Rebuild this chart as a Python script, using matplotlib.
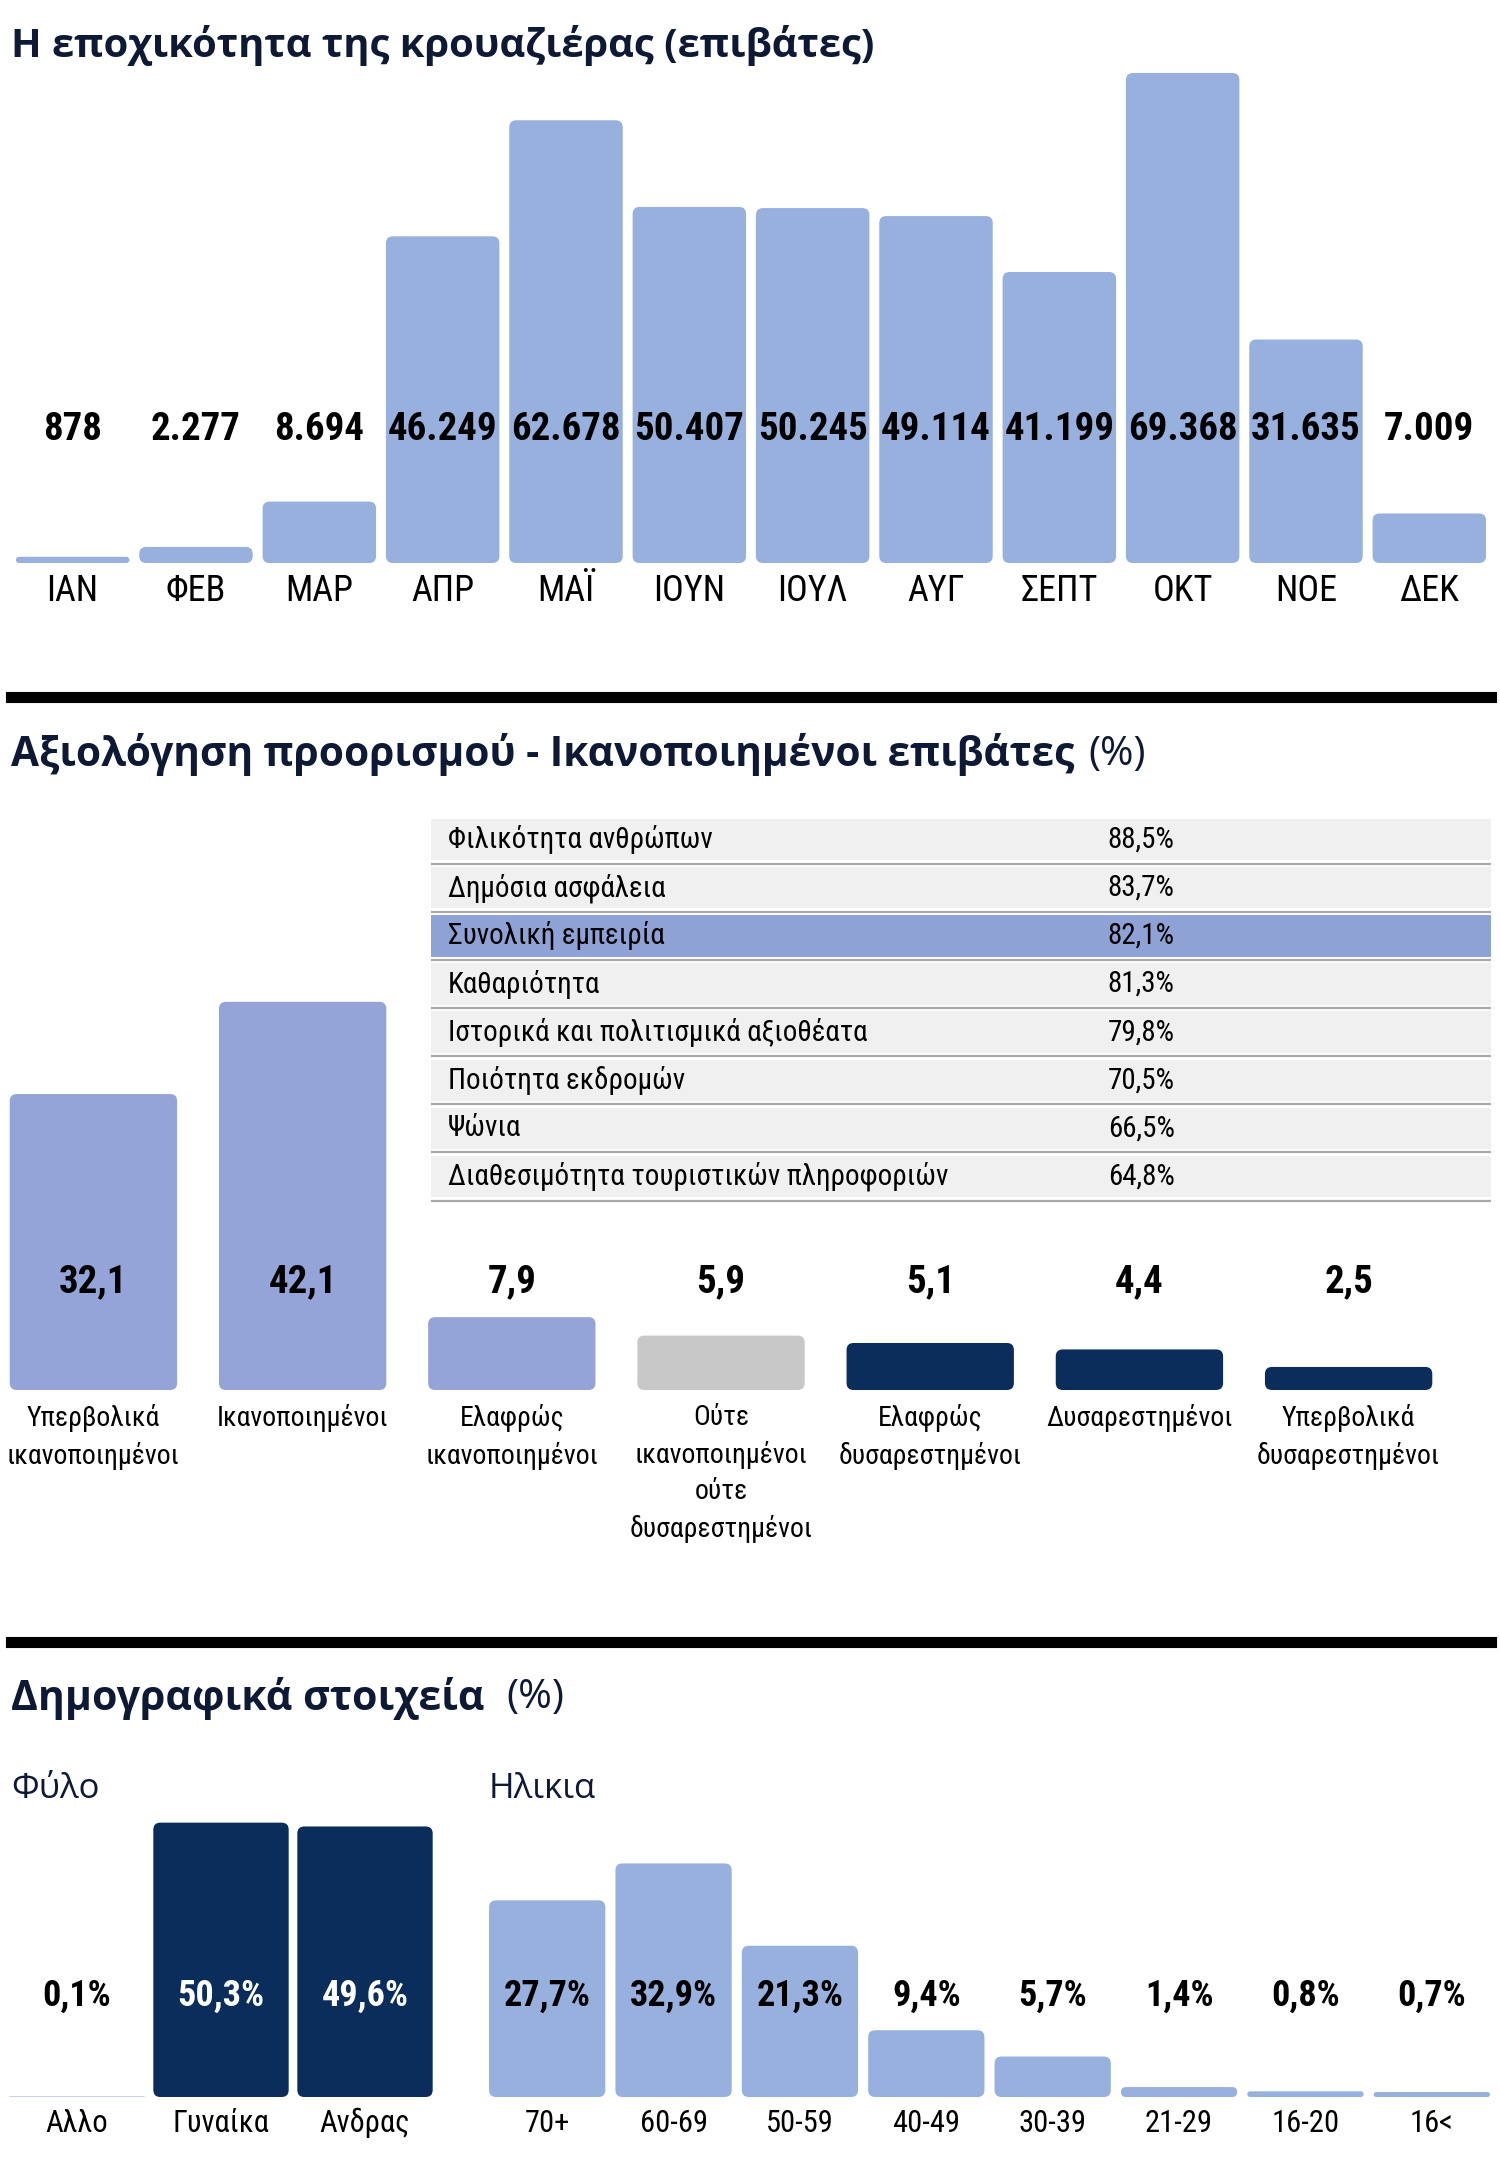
import numpy as np
import matplotlib
matplotlib.use('Agg')
import matplotlib.pyplot as plt
import matplotlib.transforms as mtransforms
from matplotlib import font_manager as fm
from matplotlib.patches import FancyBboxPatch
from matplotlib.lines import Line2D

# ---- data ----
months = ['ΙΑΝ', 'ΦΕΒ', 'ΜΑΡ', 'ΑΠΡ', 'ΜΑΪ', 'ΙΟΥΝ', 'ΙΟΥΛ', 'ΑΥΓ', 'ΣΕΠΤ', 'ΟΚΤ', 'ΝΟΕ', 'ΔΕΚ']
passengers = [878, 2277, 8694, 46249, 62678, 50407, 50245, 49114, 41199, 69368, 31635, 7009]

rating_items = ['Φιλικότητα ανθρώπων', 'Δημόσια ασφάλεια', 'Συνολική εμπειρία', 'Καθαριότητα',
                'Ιστορικά και πολιτισμικά αξιοθέατα', 'Ποιότητα εκδρομών', 'Ψώνια',
                'Διαθεσιμότητα τουριστικών πληροφοριών']
rating_values = [88.5, 83.7, 82.1, 81.3, 79.8, 70.5, 66.5, 64.8]
highlight_item = 'Συνολική εμπειρία'

sat_labels = ['Υπερβολικά\nικανοποιημένοι', 'Ικανοποιημένοι', 'Ελαφρώς\nικανοποιημένοι',
              'Ούτε\nικανοποιημένοι\nούτε\nδυσαρεστημένοι', 'Ελαφρώς\nδυσαρεστημένοι',
              'Δυσαρεστημένοι', 'Υπερβολικά\nδυσαρεστημένοι']
sat_values = [32.1, 42.1, 7.9, 5.9, 5.1, 4.4, 2.5]

gender_labels = ['Αλλο', 'Γυναίκα', 'Ανδρας']
gender_values = [0.1, 50.3, 49.6]

age_labels = ['70+', '60-69', '50-59', '40-49', '30-39', '21-29', '16-20', '16<']
age_values = [27.7, 32.9, 21.3, 9.4, 5.7, 1.4, 0.8, 0.7]

# ---- style ----
LIGHT = '#98b0dd'
VIOLET = '#95a4d8'
GREY = '#c8c8c8'
NAVY = '#0b2d5b'
TITLE_C = '#0e1a35'
sat_colors = [VIOLET, VIOLET, VIOLET, GREY, NAVY, NAVY, NAVY]
gender_colors = [LIGHT, NAVY, NAVY]

# pick fonts from what is installed: a narrow face for labels, a bold one for titles
_fl = fm.fontManager.ttflist
_COND = ('condensed', 'semi-condensed', 'extra-condensed', 'ultra-condensed')


def _weight(f):
    return f.weight if isinstance(f.weight, int) else fm.weight_dict.get(f.weight, 400)


def has_font(name, bold=False, cond=False):
    for f in _fl:
        if f.name != name:
            continue
        if bold and _weight(f) < 600:
            continue
        if not bold and _weight(f) >= 600:
            continue
        if cond and f.stretch not in _COND:
            continue
        return True
    return False


NARROW, NSTRETCH = 'DejaVu Sans', 'normal'
for name, cond in [('Liberation Sans Narrow', False), ('Roboto Condensed', False),
                   ('Open Sans Condensed', False), ('DejaVu Sans Condensed', False),
                   ('DejaVu Sans', True), ('Noto Sans', True), ('Roboto', False),
                   ('Liberation Sans', False)]:
    if has_font(name, False, cond) and has_font(name, True, cond):
        NARROW, NSTRETCH = name, ('condensed' if cond else 'normal')
        break

TITLE = 'DejaVu Sans'
for name in ['Open Sans', 'Roboto', 'Lato', 'Inter', 'Noto Sans', 'Liberation Sans']:
    if has_font(name, True) and has_font(name, False):
        TITLE = name
        break

NKW = dict(family=[NARROW, 'DejaVu Sans'], fontstretch=NSTRETCH)

W, H = 1500, 2174
fig = plt.figure(figsize=(W / 100, H / 100), dpi=100)
renderer = fig.canvas.get_renderer()


def px_axes(x0, x1, ybase, ytop):
    ax = fig.add_axes([x0 / W, 1 - ybase / H, (x1 - x0) / W, (ybase - ytop) / H])
    ax.set_axis_off()
    ax.patch.set_alpha(0)
    return ax


def fig_text(x, y, s, **kw):
    return fig.text(x / W, 1 - y / H, s, **kw)


def round_bars(ax, bars, r_px=7):
    # swap the plain rectangles for rounded ones, same data geometry
    pos = ax.get_position()
    xu = np.diff(ax.get_xlim())[0] / (pos.width * W)
    yu = np.diff(ax.get_ylim())[0] / (pos.height * H)
    for b in bars:
        x, y = b.get_xy()
        w, h = b.get_width(), b.get_height()
        r = min(r_px, w / xu / 2, h / yu / 2)
        p = FancyBboxPatch((x, y), w, h, boxstyle='round,pad=0,rounding_size=%f' % (r * xu),
                           mutation_aspect=yu / xu, fc=b.get_facecolor(), ec='none', clip_on=False)
        b.remove()
        ax.add_patch(p)


def fit_width(t, target_px):
    bb = t.get_window_extent(renderer)
    t.set_fontsize(t.get_fontsize() * target_px / bb.width)


def fit_group(texts, max_px):
    # shrink a group of texts together so the widest is no wider than max_px
    wmax = max(t.get_window_extent(renderer).width for t in texts)
    if wmax > max_px:
        for t in texts:
            t.set_fontsize(t.get_fontsize() * max_px / wmax)


def title_with_unit(x, y, bold, unit, target_px, gap=14):
    t = fig_text(x, y, bold, family=[TITLE, 'DejaVu Sans'], weight='bold', fontsize=26,
                 color=TITLE_C, va='center')
    fit_width(t, target_px)
    bb = t.get_window_extent(renderer)
    if unit:
        fig_text(bb.x1 + gap, y, unit, family=[TITLE, 'DejaVu Sans'], fontsize=t.get_fontsize(),
                 color=TITLE_C, va='center')


# ---- section 1: seasonality ----
title_with_unit(11, 46, 'Η εποχικότητα της κρουαζιέρας (επιβάτες)', None, 866)

ax1 = px_axes(11, 1491, 563, 63)
x = np.arange(len(months))
ax1.set_xlim(-0.5, len(months) - 0.5)
ax1.set_ylim(0, max(passengers) * 500 / 490)
bars = ax1.bar(x, passengers, width=0.92, color=LIGHT)
round_bars(ax1, bars)
tr = mtransforms.blended_transform_factory(ax1.transData, ax1.transAxes)
vals_t, lab_t = [], []
for i, v in enumerate(passengers):
    vals_t.append(ax1.text(i, 0.266, '{:,}'.format(v).replace(',', '.'), transform=tr, ha='center',
                           va='center', weight='bold', fontsize=28, **NKW))
    lab_t.append(ax1.text(i, -0.056, months[i], transform=tr, ha='center', va='center',
                          fontsize=26, **NKW))
fit_group(vals_t, 112)
fit_group(lab_t, 92)

fig.add_artist(Line2D([11 / W, 1491 / W], [1 - 697 / H] * 2, lw=8, color='black',
                      transform=fig.transFigure))

# ---- section 2: destination rating ----
title_with_unit(11, 755, 'Αξιολόγηση προορισμού - Ικανοποιημένοι επιβάτες', '(%)', 1064)

axt = px_axes(431, 1491, 1203, 818)
n = len(rating_items)
axt.set_xlim(0, 1)
axt.set_ylim(n, 0)
row_colors = ['#8fa2d6' if it == highlight_item else '#f0f0f0' for it in rating_items]
axt.barh(np.arange(n) + 0.45, 1, height=0.86, color=row_colors)
axt.hlines(np.arange(n) + 0.95, 0, 1, color='#a9a9a9', lw=1.6)
row_t = []
for i, (it, v) in enumerate(zip(rating_items, rating_values)):
    row_t.append(axt.text(0.016, i + 0.45, it, ha='left', va='center', fontsize=21, **NKW))
    row_t.append(axt.text(0.67, i + 0.45, ('%.1f%%' % v).replace('.', ','), ha='center',
                          va='center', fontsize=21, **NKW))
fit_group(row_t, 500)

ax2 = px_axes(11, 1491, 1390, 929)
xs = np.arange(len(sat_values))
ax2.set_xlim(-0.394, -0.394 + 1480 / 209.2)
ax2.set_ylim(0, 50)
bars = ax2.bar(xs, sat_values, width=0.8, color=sat_colors)
round_bars(ax2, bars)
tr = mtransforms.blended_transform_factory(ax2.transData, ax2.transAxes)
sv_t, sl_t = [], []
for i, v in enumerate(sat_values):
    sv_t.append(ax2.text(i, (1390 - 1282) / 461, ('%.1f' % v).replace('.', ','), transform=tr,
                         ha='center', va='center', weight='bold', fontsize=28, **NKW))
    sl_t.append(ax2.text(i, -(1404 - 1390) / 461, sat_labels[i], transform=tr, ha='center',
                         va='top', multialignment='center', fontsize=20, linespacing=1.45, **NKW))
fit_group(sl_t, 190)

fig.add_artist(Line2D([11 / W, 1491 / W], [1 - 1642 / H] * 2, lw=8, color='black',
                      transform=fig.transFigure))

# ---- section 3: demographics ----
title_with_unit(11, 1698, 'Δημογραφικά στοιχεία', '(%)', 474, gap=22)
fig_text(11, 1789, 'Φύλο', family=[TITLE, 'DejaVu Sans'], fontsize=25, color=TITLE_C, va='center')
fig_text(489, 1789, 'Ηλικια', family=[TITLE, 'DejaVu Sans'], fontsize=25, color=TITLE_C, va='center')

ax3 = px_axes(5, 437, 2097, 1797)
xg = np.arange(len(gender_values))
ax3.set_xlim(-0.5, len(gender_values) - 0.5)
ax3.set_ylim(0, 55)
bars = ax3.bar(xg, gender_values, width=0.94, color=gender_colors)
round_bars(ax3, bars)
tr = mtransforms.blended_transform_factory(ax3.transData, ax3.transAxes)
pct_t, dl_t = [], []
for i, v in enumerate(gender_values):
    pct_t.append(ax3.text(i, (2097 - 1996) / 300, ('%.1f%%' % v).replace('.', ','), transform=tr,
                          ha='center', va='center', weight='bold', fontsize=26,
                          color='white' if v > 20 else 'black', **NKW))
    dl_t.append(ax3.text(i, -26 / 300, gender_labels[i], transform=tr, ha='center', va='center',
                         fontsize=22, **NKW))

ax4 = px_axes(484, 1495, 2097, 1813)
xa = np.arange(len(age_values))
ax4.set_xlim(-0.5, len(age_values) - 0.5)
ax4.set_ylim(0, 40)
bars = ax4.bar(xa, age_values, width=0.92, color=LIGHT)
round_bars(ax4, bars)
tr = mtransforms.blended_transform_factory(ax4.transData, ax4.transAxes)
for i, v in enumerate(age_values):
    pct_t.append(ax4.text(i, (2097 - 1996) / 284, ('%.1f%%' % v).replace('.', ','), transform=tr,
                          ha='center', va='center', weight='bold', fontsize=26, **NKW))
    dl_t.append(ax4.text(i, -26 / 284, age_labels[i], transform=tr, ha='center', va='center',
                         fontsize=22, **NKW))
fit_group(pct_t, 100)
fit_group(dl_t, 100)

fig.savefig('out.png', dpi=100)
